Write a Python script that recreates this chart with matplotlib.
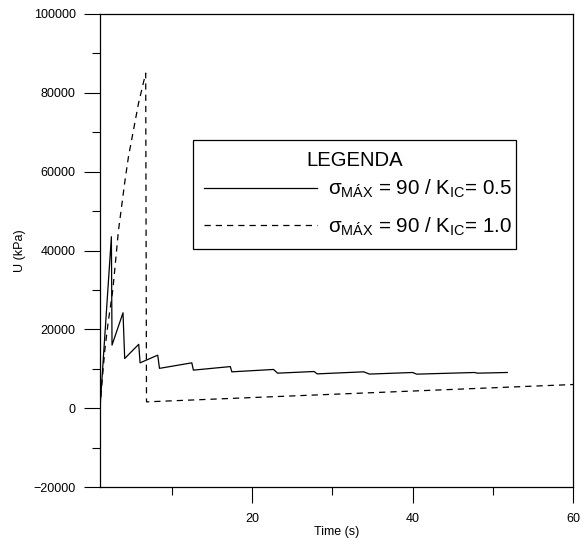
import matplotlib
matplotlib.use("Agg")
import matplotlib.pyplot as plt
from matplotlib.ticker import MultipleLocator

plt.rcParams['font.family'] = ['Liberation Sans', 'DejaVu Sans']

# Data
t_k05 = [1.0, 1.1, 2.42, 2.5, 3.87, 4.08, 5.83, 6.0, 8.2, 8.42, 12.45, 12.65,
         17.25, 17.45, 22.65, 23.15, 27.7, 28.1, 33.9, 34.6, 40.0, 40.5, 47.7, 48.1, 51.8]
U_k05 = [0, 3000, 43500, 16000, 24200, 12600, 16200, 11500, 13450, 10100, 11500, 9650,
         10550, 9220, 9820, 8880, 9300, 8700, 9220, 8650, 9050, 8630, 9050, 8880, 9050]

t_k10 = [1.0, 1.2, 1.6, 2.0, 2.6, 3.3, 4.1, 4.55, 5.8, 6.7, 6.8, 60.0]
U_k10 = [0, 5500, 14700, 21500, 30000, 45000, 57500, 63800, 77300, 85000, 1600, 6000]

label_k05 = 'σ$_{\\mathregular{MÁX}}$ = 90 / K$_{\\mathregular{IC}}$= 0.5'
label_k10 = 'σ$_{\\mathregular{MÁX}}$ = 90 / K$_{\\mathregular{IC}}$= 1.0'

fig = plt.figure(figsize=(5.81, 5.4), dpi=100)
ax = fig.add_axes([100/581, 1-487/540, 473/581, 473/540])

ax.plot(t_k05, U_k05, color='black', lw=0.9, label=label_k05)
l2, = ax.plot(t_k10, U_k10, color='black', lw=0.9, label=label_k10)
l2.set_dashes((5, 4))

ax.set_xlim(1, 60)
ax.set_ylim(-20000, 100000)
ax.xaxis.set_major_locator(MultipleLocator(20))
ax.xaxis.set_minor_locator(MultipleLocator(10))
ax.yaxis.set_major_locator(MultipleLocator(20000))
ax.yaxis.set_minor_locator(MultipleLocator(10000))
ax.tick_params(which='major', direction='out', length=11.5, width=0.8, labelsize=9)
ax.tick_params(which='minor', direction='out', length=5.5, width=0.8)
ax.tick_params(axis='x', which='major', pad=7)
ax.tick_params(axis='y', which='major', pad=6)
for s in ax.spines.values():
    s.set_linewidth(0.9)
    s.set_color('black')

ax.set_xlabel('Time (s)', fontsize=9, labelpad=1)
ax.set_ylabel('U (kPa)', fontsize=9, labelpad=5)

leg = ax.legend(loc='upper left', bbox_to_anchor=(0.197, 0.734, 0.682, 0.0),
                mode='expand', title='LEGENDA', fontsize=14.8, title_fontsize=14.6,
                fancybox=False, edgecolor='black', framealpha=1,
                handlelength=5.45, handletextpad=0.55, borderpad=0.55,
                labelspacing=0.72, borderaxespad=0)
leg.get_frame().set_linewidth(0.9)
leg._legend_box.sep = 5.5

fig.savefig('out.png', dpi=100)
